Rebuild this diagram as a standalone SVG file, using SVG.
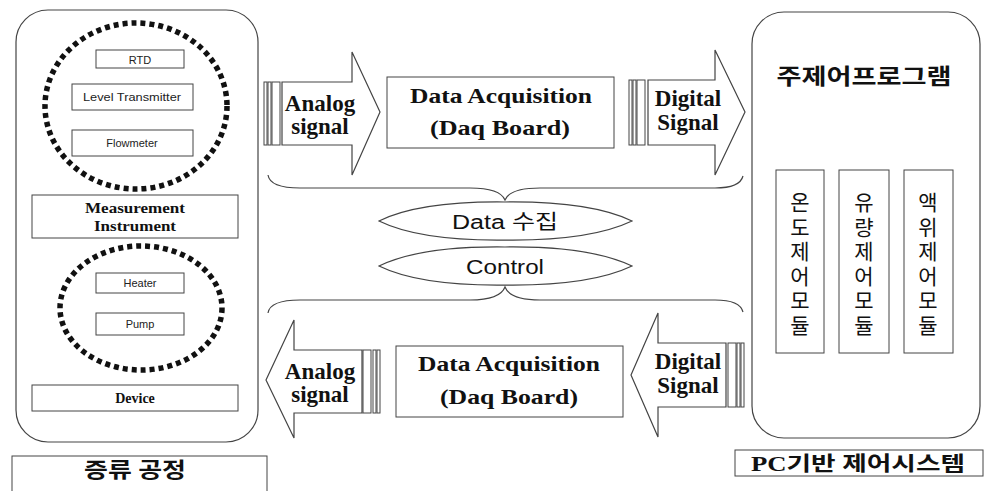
<svg xmlns="http://www.w3.org/2000/svg" width="986" height="491" viewBox="0 0 986 491">
<style>
.ln{fill:#fff;stroke:#444;stroke-width:1.2}
.nf{fill:none;stroke:#444;stroke-width:1.2}
.st{fill:#fff;stroke:#444;stroke-width:1}
.dc{fill:none;stroke:#111;stroke-width:5.5;stroke-dasharray:5 4}
.sm{font-family:"Liberation Sans",Arial,sans-serif;font-size:11px;fill:#222;text-anchor:middle}
.sb{font-family:"Liberation Serif","Times New Roman",serif;font-weight:bold;fill:#111;text-anchor:middle}
.big{font-size:23px}
.mid{font-size:21px}
.lab{font-size:14px}
.ko{font-family:"Noto Sans CJK KR","Liberation Sans",sans-serif;fill:#111;font-size:21px;writing-mode:vertical-rl;letter-spacing:3.5px}
.kb{font-family:"Liberation Serif","Noto Sans CJK KR",serif;font-weight:bold;fill:#111;text-anchor:middle}
.el{font-family:"Liberation Sans","Noto Sans CJK KR",sans-serif;font-size:20px;fill:#111;text-anchor:middle}
</style>
<rect width="986" height="491" fill="#fff"/>

<g id="process-panel">
<rect class="ln" x="16" y="10" width="242" height="432" rx="32"/>
<g id="measurement-group">
<ellipse class="dc" cx="136" cy="106" rx="91" ry="83"/>
<g id="rtd"><rect class="st" x="96" y="50" width="88" height="18"/><text class="sm" x="140" y="64">RTD</text></g>
<g id="level-transmitter"><rect class="st" x="72" y="84" width="121" height="26"/><text class="sm" x="132" y="101" textLength="98" lengthAdjust="spacingAndGlyphs">Level Transmitter</text></g>
<g id="flowmeter"><rect class="st" x="72" y="130" width="121" height="26"/><text class="sm" x="132" y="147">Flowmeter</text></g>
</g>
<g id="measurement-instrument"><rect class="st" x="32" y="195" width="206" height="43"/>
<text class="sb lab" x="135" y="213" textLength="100" lengthAdjust="spacingAndGlyphs">Measurement</text>
<text class="sb lab" x="135" y="231" textLength="82" lengthAdjust="spacingAndGlyphs">Instrument</text></g>
<g id="device-group">
<ellipse class="dc" cx="141" cy="308" rx="81" ry="62"/>
<g id="heater"><rect class="st" x="96" y="273" width="88" height="20"/><text class="sm" x="140" y="287">Heater</text></g>
<g id="pump"><rect class="st" x="96" y="313" width="88" height="22"/><text class="sm" x="140" y="328">Pump</text></g>
</g>
<g id="device"><rect class="st" x="32" y="385" width="206" height="26"/><text class="sb lab" x="135" y="403">Device</text></g>
</g>
<g id="process-title"><rect class="st" x="12" y="456" width="255" height="45"/>
<text class="kb" x="135" y="477" font-size="21" textLength="102" lengthAdjust="spacingAndGlyphs">증류 공정</text></g>

<g id="pc-panel">
<rect class="ln" x="752" y="12" width="228" height="426" rx="32"/>
<text class="kb" x="864" y="84" font-size="22" textLength="175" lengthAdjust="spacingAndGlyphs">주제어프로그램</text>
<g id="temp-module"><rect class="st" x="776" y="170" width="48" height="183"/>
<text class="ko" x="800" y="192">온도제어모듈</text></g>
<g id="flow-module"><rect class="st" x="839" y="170" width="50" height="183"/>
<text class="ko" x="864" y="192">유량제어모듈</text></g>
<g id="level-module"><rect class="st" x="904" y="170" width="49" height="183"/>
<text class="ko" x="928" y="192">액위제어모듈</text></g>
</g>
<g id="pc-title"><rect class="st" x="735" y="450" width="248" height="26"/>
<text class="kb" x="858" y="471" font-size="20" textLength="214" lengthAdjust="spacingAndGlyphs">PC기반 제어시스템</text></g>

<g id="daq-top"><rect class="st" x="387" y="77" width="227" height="71"/>
<text class="sb mid" x="501" y="103" textLength="182" lengthAdjust="spacingAndGlyphs">Data Acquisition</text>
<text class="sb mid" x="500" y="135" textLength="140" lengthAdjust="spacingAndGlyphs">(Daq Board)</text></g>
<g id="daq-bottom"><rect class="st" x="396" y="346" width="227" height="71"/>
<text class="sb mid" x="509" y="371" textLength="182" lengthAdjust="spacingAndGlyphs">Data Acquisition</text>
<text class="sb mid" x="509" y="404" textLength="138" lengthAdjust="spacingAndGlyphs">(Daq Board)</text></g>

<g id="data-collect"><path class="ln" d="M379,221 Q420,201 505,202 Q590,201 632,221 Q590,241 505,240 Q420,241 379,221 Z"/>
<text class="el" x="505" y="229" textLength="106" lengthAdjust="spacingAndGlyphs">Data 수집</text></g>
<g id="control"><path class="ln" d="M379,266 Q420,246 505,247 Q590,246 632,266 Q590,286 505,285 Q420,286 379,266 Z"/>
<text class="el" x="505" y="274" textLength="78" lengthAdjust="spacingAndGlyphs">Control</text></g>

<g id="connectors">
<g id="analog-top">
<rect class="st" x="264" y="82" width="3" height="63"/><rect class="st" x="268" y="82" width="3" height="63"/><rect class="st" x="272" y="82" width="8" height="63"/>
<path class="ln" d="M282,82 L352,82 L352,52 L380,112 L352,175 L352,145 L282,145 Z"/>
<text class="sb big"><tspan x="320" y="111">Analog</tspan><tspan x="320" y="134">signal</tspan></text>
</g>
<g id="digital-top">
<rect class="st" x="629" y="80" width="3" height="65"/><rect class="st" x="633" y="80" width="3" height="65"/><rect class="st" x="637" y="80" width="8" height="65"/>
<path class="ln" d="M648,80 L715,80 L715,50 L745,112 L715,175 L715,145 L648,145 Z"/>
<text class="sb big"><tspan x="688" y="106">Digital</tspan><tspan x="688" y="130">Signal</tspan></text>
</g>
<g id="analog-bottom">
<rect class="st" x="363" y="350" width="8" height="63"/><rect class="st" x="373" y="350" width="3" height="63"/><rect class="st" x="377" y="350" width="3" height="63"/>
<path class="ln" d="M362,350 L294,350 L294,320 L266,380 L294,438 L294,413 L362,413 Z"/>
<text class="sb big"><tspan x="320" y="379">Analog</tspan><tspan x="320" y="402">signal</tspan></text>
</g>
<g id="digital-bottom">
<rect class="st" x="728" y="343" width="8" height="64"/><rect class="st" x="737" y="343" width="3" height="64"/><rect class="st" x="741" y="343" width="3" height="64"/>
<path class="ln" d="M726,343 L658,343 L658,313 L631,375 L658,437 L658,407 L726,407 Z"/>
<text class="sb big"><tspan x="688" y="369">Digital</tspan><tspan x="688" y="393">Signal</tspan></text>
</g>
<path id="brace-top" class="nf" d="M268,175 Q270,188 300,188 L470,188 Q500,188 505,200 Q510,188 540,188 L715,188 Q740,188 743,176"/>
<path id="brace-bottom" class="nf" d="M268,313 Q270,300 300,300 L470,300 Q500,300 505,287 Q510,300 540,300 L715,300 Q740,300 743,312"/>
</g>
</svg>
